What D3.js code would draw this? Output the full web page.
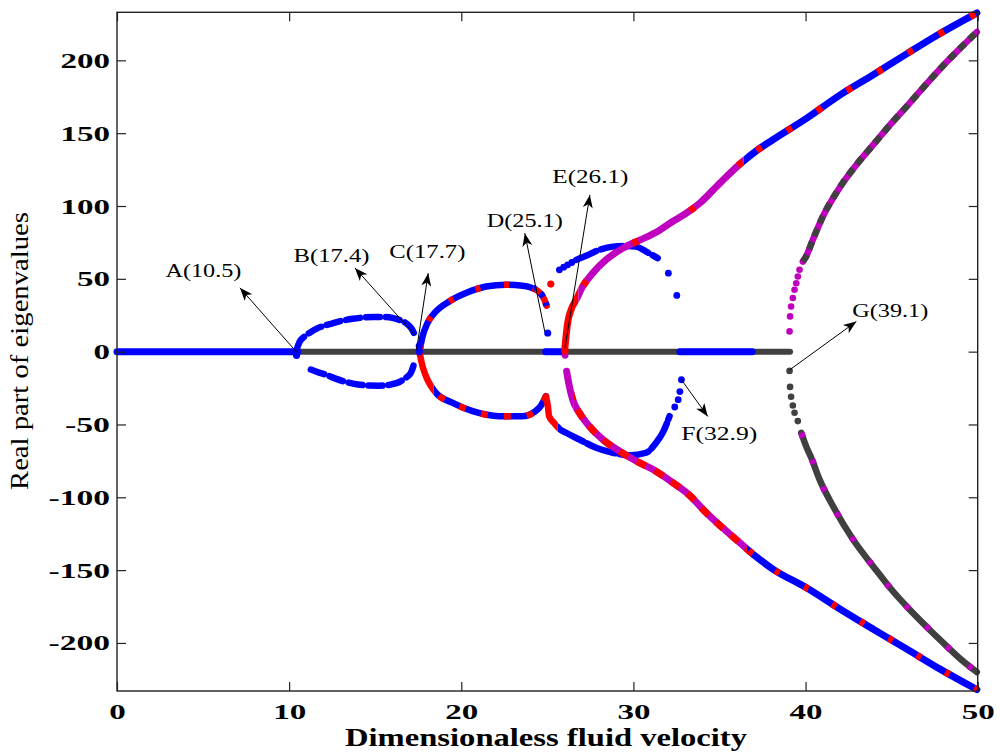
<!DOCTYPE html>
<html>
<head>
<meta charset="utf-8">
<script src="https://cdn.jsdelivr.net/npm/d3@7"></script>
<style>
  body { margin: 0; background: #fff; }
  svg { display: block; }
</style>
</head>
<body>
<svg id="chart" width="1000" height="754"></svg>
<script>
// ---------------- data (fluid velocity, real part of eigenvalue) ----------------
const xTicks = [0, 10, 20, 30, 40, 50];
const yTicks = [-200, -150, -100, -50, 0, 50, 100, 150, 200];

// eigenvalues sitting on the real-part = 0 axis
const zeroBlueLow  = [[0, 0], [10.5, 0]];
const zeroGray     = [[10.5, 0], [39.1, 0]];
const zeroBlueMid  = [[24.9, 0], [25.8, 0]];
const zeroBlueHigh = [[32.7, 0], [36.9, 0]];

// first loop, between A and B
const abUpper = [[10.45, 2], [10.6, 6.5], [10.9, 10.5], [11.2, 13], [11.6, 15.8], [12.1, 18], [12.6, 19.7],
  [13.1, 21.3], [13.7, 22.6], [14.3, 23.4], [14.9, 23.8], [15.5, 23.8], [16.0, 23.2], [16.4, 21.8],
  [16.8, 19.5], [17.1, 16], [17.3, 11.5]];
const abLower = [[11.26, -12.3], [11.7, -14.2], [12.13, -15.8], [12.7, -18.5], [13.3, -20.8], [14.0, -22.5],
  [14.65, -23.3], [15.2, -23.4], [15.62, -23.1], [16.0, -22.3], [16.4, -20.8], [16.8, -17.8],
  [17.07, -14.6], [17.27, -7.8]];
const cPoints = [[17.56, 4], [17.56, 0], [10.43, -2.5]];

// second loop, between C and D
const cdUpper = [[17.6, 2], [17.75, 10.5], [18.04, 19.7], [18.53, 27.6], [19.3, 34.5], [20.27, 40.2],
  [21.44, 44.7], [22.6, 45.9], [23.56, 45.2], [24.34, 42.5], [24.83, 35.6], [24.96, 31.5]];
const cdLower = [[17.6, -2], [17.75, -10], [17.95, -16.9], [18.53, -28.3], [19.5, -35.2], [20.66, -40.9],
  [22.2, -44.3], [23.56, -44.3], [24.53, -38.6], [24.92, -30.6]];
const dBluePoints = [[25.02, 12.8]];
const dRedPoints = [[25.2, 46.4], [26.02, 0.5]];

// branch ending at F
const fUpper = [[26.67, 63], [27.25, 65.8], [28.02, 69.9], [28.8, 72.1], [29.58, 72.6], [30.16, 72.1],
  [30.74, 68.7], [31.41, 64.2]];
const fUpperPoints = [[25.7, 56.2], [25.95, 58], [26.18, 59.6], [26.42, 61.2], [32.03, 53.9], [32.52, 38.6]];
const fLower = [[24.92, -30.6], [25.03, -37.5], [25.1, -44.3], [25.4, -49], [25.7, -53], [26.09, -55.7],
  [26.86, -60.3], [27.83, -66], [28.8, -69.4], [29.77, -71.2], [30.74, -69.4], [31.32, -62.5],
  [31.7, -55.7], [32.1, -44.3]];
const fLowerPoints = [[32.4, -38], [32.6, -33], [32.7, -27.4], [32.79, -19.3]];

// branches leaving the axis at E
const eUpper = [[26.02, 2.4], [26.1, 12], [26.18, 19.7], [26.38, 28.8], [26.67, 35.6], [27.05, 44.7],
  [27.63, 53.9], [28.4, 63], [29.38, 71], [30.4, 76.7], [31.4, 82.5], [32.3, 89.5], [33.0, 94.5],
  [33.84, 101.8], [35, 115.5], [36.16, 128.5], [37.1, 137.5], [38.1, 145.5], [40.03, 160], [41.97, 176],
  [43.91, 190], [45.85, 204.3], [47.79, 218.3], [49.95, 232.5]];
const eLower = [[26.12, -13.5], [26.24, -21.5], [26.47, -32.9], [26.86, -42], [27.44, -51.2],
  [28.22, -60.3], [29.19, -68.3], [30.16, -75.1], [31.12, -80.8], [32.29, -90], [33.2, -98],
  [34.22, -110.5], [36.16, -131], [37.1, -140.5], [38.1, -149.3], [40.03, -162], [41.97, -176.5],
  [43.91, -190.4], [45.85, -204], [47.79, -217.8], [49.95, -232]];
const eLowerPoints = [[26.03, -2.5]];

// branches leaving the axis at G
const gUpper = [[39.84, 61.8], [40.03, 65.3], [40.42, 76.7], [41, 92.7], [42, 113], [43, 129],
  [44, 143], [45, 157], [46, 170], [47, 183.5], [48, 196.5], [49, 208.5], [49.95, 219.5]];
const gUpperPoints = [[39.07, 13.9], [39.1, 24.2], [39.16, 31], [39.26, 36.8], [39.36, 42.5], [39.46, 47],
  [39.55, 51.6], [39.65, 56.2]];
const gLower = [[39.75, -55.7], [40.03, -64.9], [40.33, -72.8], [40.81, -87.7], [41.59, -106],
  [42.75, -128.8], [44, -148.5], [45, -163.5], [46, -176.5], [47, -188.5], [48, -200], [49, -211],
  [49.95, -220]];
const gLowerPoints = [[39.07, -13.2], [39.1, -24.2], [39.16, -31], [39.26, -37], [39.36, -42], [39.55, -47.7]];

// labelled critical velocities: label, marked point, arrow tip, label position
const annotationLabels = ["A(10.5)", "B(17.4)", "C(17.7)", "D(25.1)", "E(26.1)", "F(32.9)", "G(39.1)"];
const annotationPoints = [[10.45, -0.5], [17.3, 11.5], [17.4, 1.2], [24.85, 13.8], [26.02, 2.4], [32.79, -19.3], [39.08, -12.5]];
const annotationTips   = [[7.14, 43.8], [13.82, 57.5], [18.08, 53.9], [23.69, 81.3], [27.47, 107.6], [34.32, -44.5], [42.95, 20.7]];
const annotationText   = [[5.02, 51.3], [12.46, 61.6], [18.03, 64.4], [23.69, 85.6], [27.5, 115.8], [34.99, -60.5], [44.92, 23.9]];

// ---------------- drawing ----------------
const BLUE = "#0000ff", RED = "#ff0000", MAGENTA = "#bf00bf", GRAY = "#404040";

const svg = d3.select("#chart");
const defs = svg.append("defs");
const x = d3.scaleLinear().domain([0, 50]).range([117, 977.7]);
const y = d3.scaleLinear().domain([-233, 233]).range([691, 12.3]);

const line = d3.line().x(d => x(d[0])).y(d => y(d[1])).curve(d3.curveMonotoneX);
const marks = svg.append("g");
let clipCount = 0;

// thick band of densely packed markers; each segment colours an x-range of the branch
function band(pts, width, segs) {
  segs.forEach((s, i) => {
    const id = "seg" + (clipCount++);
    const x0 = i === 0 ? x(s.from) - 8 : x(s.from);
    const x1 = i === segs.length - 1 ? x(s.to) + 8 : x(s.to);
    defs.append("clipPath").attr("id", id)
      .append("rect").attr("x", x0).attr("y", 0).attr("width", x1 - x0).attr("height", 754);
    const g = marks.append("g").attr("clip-path", `url(#${id})`);
    g.append("path").attr("d", line(pts))
      .attr("fill", "none").attr("stroke", s.base).attr("stroke-width", width)
      .attr("stroke-linecap", "round").attr("stroke-linejoin", "round")
      .attr("stroke-dasharray", s.baseDash || null);
    if (s.accent) {
      g.append("path").attr("d", line(pts))
        .attr("fill", "none").attr("stroke", s.accent).attr("stroke-width", width)
        .attr("stroke-dasharray", s.pattern);
    }
  });
}

function dots(pts, color, r) {
  marks.append("g").selectAll("circle").data(pts).join("circle")
    .attr("cx", d => x(d[0])).attr("cy", d => y(d[1])).attr("r", r).attr("fill", color);
}

// axis line of zero real part
band(zeroGray, 6, [{ from: 10.5, to: 39.1, base: GRAY }]);
band(zeroBlueLow, 7, [{ from: 0, to: 10.5, base: BLUE }]);
band(zeroBlueMid, 7, [{ from: 24.9, to: 25.8, base: BLUE }]);
band(zeroBlueHigh, 7, [{ from: 32.7, to: 36.9, base: BLUE }]);

// A–B loop
band(abUpper, 6.5, [{ from: 10.4, to: 17.4, base: BLUE, baseDash: "14 6" }]);
band(abLower, 6.5, [{ from: 11.2, to: 17.3, base: BLUE, baseDash: "14 6" }]);

// C–D loop
band(cdUpper, 6.5, [
  { from: 17.5, to: 24.2, base: BLUE, accent: RED, pattern: "5 24" },
  { from: 24.2, to: 25.0, base: RED, accent: BLUE, pattern: "5 6" }
]);
band(cdLower, 6.5, [
  { from: 17.5, to: 18.4, base: RED },
  { from: 18.4, to: 25.0, base: BLUE, accent: RED, pattern: "7 16" }
]);

// F branches
band(fLower, 6.5, [
  { from: 24.9, to: 25.6, base: RED },
  { from: 25.6, to: 32.2, base: BLUE, baseDash: "30 4" }
]);
band(fUpper, 6.5, [{ from: 26.6, to: 31.5, base: BLUE, baseDash: "22 5" }]);
dots(fUpperPoints, BLUE, 3.4);
dots(fLowerPoints, BLUE, 3.4);

// E branches
band(eUpper, 7, [
  { from: 26.0, to: 26.8, base: RED },
  { from: 26.8, to: 36.4, base: MAGENTA, accent: RED, pattern: "6 60" },
  { from: 36.4, to: 50, base: BLUE, accent: RED, pattern: "6 30" }
]);
band(eLower, 7, [
  { from: 26.1, to: 26.5, base: MAGENTA },
  { from: 26.5, to: 36.6, base: MAGENTA, accent: RED, pattern: "10 10" },
  { from: 36.6, to: 50, base: BLUE, accent: RED, pattern: "5 28" }
]);
dots(eLowerPoints, MAGENTA, 3.4);

// G branches
band(gUpper, 6.5, [{ from: 39.8, to: 50, base: MAGENTA, accent: GRAY, pattern: "8 6" }]);
band(gLower, 6.5, [{ from: 39.7, to: 50, base: GRAY, accent: MAGENTA, pattern: "5 24" }]);
dots(gUpperPoints, MAGENTA, 3.3);
dots(gLowerPoints, GRAY, 3.3);

// isolated points
dots(cPoints, BLUE, 3.6);
dots(dBluePoints, BLUE, 3.6);
dots(dRedPoints, RED, 3.6);

// ---------------- frame and axes ----------------
const fmt = d => String(d);
const digitWidth = s => s.replace("-", "").length * 16.5 + (s.startsWith("-") ? 12 : 0);

const xAxis = svg.append("g").attr("transform", `translate(0,${y.range()[0]})`)
  .call(d3.axisBottom(x).tickValues(xTicks).tickFormat(fmt).tickSizeInner(-9).tickSizeOuter(0).tickPadding(12));
const yAxis = svg.append("g").attr("transform", `translate(${x.range()[0]},0)`)
  .call(d3.axisLeft(y).tickValues(yTicks).tickFormat(fmt).tickSizeInner(-9).tickSizeOuter(0).tickPadding(7));
svg.append("g").attr("transform", `translate(0,${y.range()[1]})`)
  .call(d3.axisTop(x).tickValues(xTicks).tickFormat("").tickSizeInner(-9).tickSizeOuter(0));
svg.append("g").attr("transform", `translate(${x.range()[1]},0)`)
  .call(d3.axisRight(y).tickValues(yTicks).tickFormat("").tickSizeInner(-9).tickSizeOuter(0));

svg.selectAll(".domain").remove();
svg.selectAll(".tick line").attr("stroke", "#222").attr("stroke-width", 1.2);
[xAxis, yAxis].forEach(a => a.selectAll("text")
  .attr("font-family", "'Liberation Serif', serif").attr("font-weight", "bold")
  .attr("font-size", 22).attr("fill", "#000")
  .attr("textLength", function () { return digitWidth(this.textContent); })
  .attr("lengthAdjust", "spacingAndGlyphs"));

svg.append("rect")
  .attr("x", x.range()[0]).attr("y", y.range()[1])
  .attr("width", x.range()[1] - x.range()[0]).attr("height", y.range()[0] - y.range()[1])
  .attr("fill", "none").attr("stroke", "#222").attr("stroke-width", 1.4);

// axis titles
svg.append("text")
  .attr("x", 546).attr("y", 746).attr("text-anchor", "middle")
  .attr("font-family", "'Liberation Serif', serif").attr("font-weight", "bold").attr("font-size", 26)
  .attr("textLength", 402).attr("lengthAdjust", "spacingAndGlyphs")
  .text("Dimensionaless fluid velocity");
svg.append("text")
  .attr("transform", "translate(28,351) rotate(-90)").attr("text-anchor", "middle")
  .attr("font-family", "'Liberation Serif', serif").attr("font-size", 25)
  .attr("textLength", 278).attr("lengthAdjust", "spacingAndGlyphs")
  .text("Real part of eigenvalues");

// ---------------- annotations ----------------
defs.append("marker").attr("id", "head")
  .attr("viewBox", "-14 -6 16 12").attr("refX", 0).attr("refY", 0)
  .attr("markerWidth", 16).attr("markerHeight", 12).attr("markerUnits", "userSpaceOnUse")
  .attr("orient", "auto")
  .append("path").attr("d", "M0,0 L-13,-5 L-9.5,0 L-13,5 Z").attr("fill", "#000");

const notes = svg.append("g");
annotationLabels.forEach((label, i) => {
  const p = annotationPoints[i], t = annotationTips[i], c = annotationText[i];
  notes.append("line")
    .attr("x1", x(p[0])).attr("y1", y(p[1])).attr("x2", x(t[0])).attr("y2", y(t[1]))
    .attr("stroke", "#000").attr("stroke-width", 1).attr("marker-end", "url(#head)");
  notes.append("text")
    .attr("x", x(c[0])).attr("y", y(c[1])).attr("text-anchor", "middle")
    .attr("font-family", "'Liberation Serif', serif").attr("font-size", 18).attr("fill", "#000")
    .attr("textLength", 76).attr("lengthAdjust", "spacingAndGlyphs")
    .text(label);
});
</script>
</body>
</html>
